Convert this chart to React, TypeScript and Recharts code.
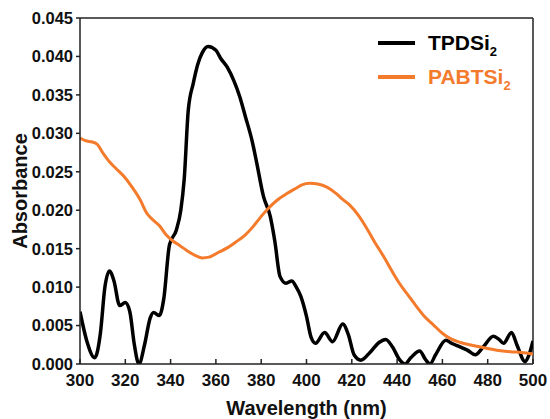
import { Legend, Line, LineChart, ReferenceLine, XAxis, YAxis } from 'recharts';

// TPDSi2 spectrum
const tpdWavelength = [
    300, 303, 306.5, 309, 311, 313, 315, 317.5, 320, 322, 324, 326, 328.5, 331, 332.5, 335, 337, 339.5, 342.5,
    344.5, 346, 347.8, 350, 352, 354, 356.5, 360, 362, 365, 368, 370.5, 373, 376, 378, 381, 384, 386, 388.3,
    391, 393.5, 395.5, 397.5, 400, 402, 404, 408, 411.5, 416, 418.5, 421, 424, 428, 432, 435, 438, 441, 443.5,
    446, 450, 452.5, 454.5, 457, 461.5, 464, 468, 471, 474.5, 478, 482.5, 485, 487, 490.5, 493, 496.5, 498, 500,
];
const tpdAbsorbance = [
    0.0068, 0.003, 0.0008, 0.004, 0.01, 0.0121, 0.0108, 0.0076, 0.008, 0.0068, 0.0025, 0.0, 0.0025, 0.006, 0.0067,
    0.0063, 0.0085, 0.0155, 0.0174, 0.02, 0.024, 0.033, 0.0365, 0.039, 0.0405, 0.0413, 0.0408, 0.0398, 0.0386,
    0.0368, 0.0348, 0.0322, 0.029, 0.0262, 0.0218, 0.0192, 0.016, 0.0114, 0.0105, 0.0108, 0.01, 0.0088, 0.0062,
    0.0035, 0.0027, 0.0041, 0.0029, 0.0052, 0.0038, 0.0012, 0.0005, 0.0015, 0.0028, 0.0032, 0.0022, 0.0006, 0.0,
    0.0008, 0.0017, 0.0006, 0.0, 0.0012, 0.0031, 0.0027, 0.0022, 0.0018, 0.0012, 0.0022, 0.0036, 0.0032, 0.0027,
    0.0041, 0.0024, 0.0003, 0.001, 0.003,
];

// PABTSi2 spectrum
const pabWavelength = [
    300, 303, 305, 307.5, 310, 313, 316, 320, 323, 326.5, 329.5, 332, 335, 338, 341, 344, 347, 351, 354, 357, 361,
    365, 369, 373, 376.5, 380, 383, 387, 391, 395, 398, 401.5, 405, 409, 413, 416, 419, 423, 426.5, 430, 434,
    437.5, 441, 445, 448.5, 452, 456, 460, 463.5, 468, 472, 477, 484, 490, 495, 500,
];
const pabAbsorbance = [
    0.0294, 0.029, 0.0289, 0.0286, 0.0275, 0.0263, 0.0254, 0.0242, 0.023, 0.0214, 0.0196, 0.0188, 0.018, 0.0168,
    0.016, 0.0154, 0.0148, 0.0141, 0.0138, 0.0139, 0.0145, 0.0151, 0.0159, 0.0168, 0.0179, 0.0192, 0.0202, 0.0213,
    0.0221, 0.0228, 0.0233, 0.0235, 0.0234, 0.023, 0.0222, 0.0214, 0.0207, 0.0193, 0.0177, 0.0159, 0.014, 0.0122,
    0.0105, 0.0089, 0.0075, 0.0062, 0.0051, 0.004, 0.0033, 0.0028, 0.0025, 0.0022, 0.0018, 0.0016, 0.0015, 0.0013,
];

const xTicks = [300, 320, 340, 360, 380, 400, 420, 440, 460, 480, 500];
const yTicks = [0, 0.005, 0.01, 0.015, 0.02, 0.025, 0.03, 0.035, 0.04, 0.045];

const tpdData = tpdWavelength.map((w, i) => ({ w, a: tpdAbsorbance[i] }));
const pabData = pabWavelength.map((w, i) => ({ w, a: pabAbsorbance[i] }));

const FONT = '"Liberation Sans", Arial, sans-serif';
const ORANGE = '#F47A2C';

const LegendBox = () => (
    <div style={{ fontFamily: FONT, fontWeight: 'bold', fontSize: 21 }}>
        {[
            { name: 'TPDSi', color: '#000' },
            { name: 'PABTSi', color: ORANGE },
        ].map((s) => (
            <div key={s.name} style={{ display: 'flex', alignItems: 'center', color: s.color, height: 34 }}>
                <svg width={53} height={10}>
                    <line x1={3} x2={40} y1={5} y2={5} stroke={s.color} strokeWidth={4} />
                </svg>
                <span>
                    {s.name}
                    <span style={{ fontSize: 13, position: 'relative', top: 6 }}>2</span>
                </span>
            </div>
        ))}
    </div>
);

const YTitle = (props: any) => {
    const vb = props.viewBox;
    const cy = vb.y + vb.height / 2;
    return (
        <text x={20} y={cy} transform={`rotate(-90 20 ${cy})`} textAnchor="middle" dominantBaseline="central"
            fontFamily={FONT} fontWeight="bold" fontSize={20} fill="#111">
            Absorbance
        </text>
    );
};

const App = () => {
    return (
        <div style={{ position: 'absolute', left: 0, top: 0, width: 550, height: 419, background: '#fff' }}>
            <LineChart width={550} height={419} margin={{ top: 18, right: 17, left: 0, bottom: 0 }}>
                <XAxis
                    type="number"
                    dataKey="w"
                    domain={[300, 500]}
                    ticks={xTicks}
                    allowDataOverflow
                    height={55}
                    stroke="#222"
                    strokeWidth={1.5}
                    tickSize={-5}
                    tickMargin={15}
                    tick={{ fontFamily: FONT, fontWeight: 'bold', fontSize: 17, fill: '#111' }}
                    label={{ value: 'Wavelength (nm)', position: 'insideBottom', offset: 4, fontFamily: FONT, fontWeight: 'bold', fontSize: 20, fill: '#111' }}
                />
                <YAxis
                    type="number"
                    domain={[0, 0.045]}
                    ticks={yTicks}
                    allowDataOverflow
                    width={80}
                    stroke="#222"
                    strokeWidth={1.5}
                    tickSize={4}
                    tickMargin={3}
                    tickFormatter={(v: number) => v.toFixed(3)}
                    tick={{ fontFamily: FONT, fontWeight: 'bold', fontSize: 16.5, fill: '#111' }}
                    label={YTitle}
                />
                <ReferenceLine y={0.045} stroke="#222" strokeWidth={1.5} />
                <ReferenceLine x={500} stroke="#222" strokeWidth={1.5} />
                <Line data={tpdData} dataKey="a" name="TPDSi2" type="monotone" stroke="#000" strokeWidth={3.5} dot={false} isAnimationActive={false} />
                <Line data={pabData} dataKey="a" name="PABTSi2" type="monotone" stroke={ORANGE} strokeWidth={3} dot={false} isAnimationActive={false} />
                <Legend layout="vertical" align="center" verticalAlign="middle" content={LegendBox}
                    wrapperStyle={{ top: 26, left: 375, width: 172 }} />
            </LineChart>
        </div>
    );
};

export default App;
